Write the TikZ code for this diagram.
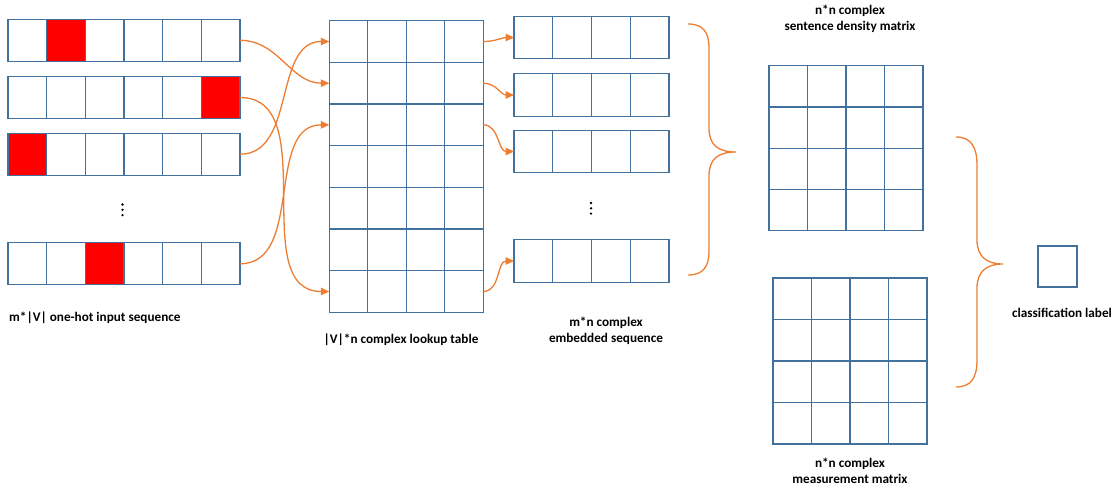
\documentclass[tikz,border=0pt]{standalone}
\usepackage{fontspec}
\setmainfont{Carlito}
\usetikzlibrary{arrows.meta}
\definecolor{cellblue}{RGB}{65,113,156}
\definecolor{arrorange}{RGB}{237,125,49}
\definecolor{hotred}{RGB}{255,0,0}
\begin{document}
\begin{tikzpicture}[x=1pt,y=-1pt,
  cellbox/.style={draw=cellblue, line width=1.3pt, inner sep=0pt, outer sep=0pt, fill=white},
  link/.style={draw=arrorange, line width=1.3pt, -{Triangle[length=8.5pt,width=7.5pt]}},
  bracestyle/.style={draw=arrorange, line width=1.3pt},
  lbl/.style={font=\bfseries\fontsize{13.2}{16}\selectfont, align=center, text=black, inner sep=0pt},
  dotmark/.style={fill=black, draw=none, circle, minimum size=2.6pt, inner sep=0pt}]
\useasboundingbox (0,0) rectangle (1113,492);
% input one-hot rows
\foreach \r/\yc/\hot in {1/40.3/2, 2/97.5/6, 3/154.2/1, 4/263.8/3}{
  \foreach \c in {1,...,6}{
    \pgfmathsetmacro\xc{8+(\c-0.5)*38.67}
    \ifnum\c=\hot\relax\def\fillc{hotred}\else\def\fillc{white}\fi
    \node[cellbox, minimum width=38.67pt, minimum height=42pt, fill=\fillc] (in\r-\c) at (\xc,\yc) {};
  }
}
\foreach \k/\yy in {1/204.5, 2/209.8, 3/215.1}{
  \node[dotmark] (dotin\k) at (122.5,\yy) {};
  \node[dotmark] (dotem\k) at (591,\yy-1.5) {};
}
% lookup table
\foreach \r in {1,...,7}{
  \foreach \c in {1,...,4}{
    \pgfmathsetmacro\xc{329.3+(\c-0.5)*38.5}
    \pgfmathsetmacro\yc{20.7+(\r-0.5)*41.66}
    \node[cellbox, minimum width=38.5pt, minimum height=41.66pt] (lk\r-\c) at (\xc,\yc) {};
  }
}
% embedded sequence
\foreach \r/\yc in {1/37.5, 2/95, 3/151.5, 4/261}{
  \foreach \c in {1,...,4}{
    \pgfmathsetmacro\xc{514+(\c-0.5)*38.75}
    \node[cellbox, minimum width=38.75pt, minimum height=42.5pt] (em\r-\c) at (\xc,\yc) {};
  }
}
% density matrix
\foreach \r in {1,...,4}{
  \foreach \c in {1,...,4}{
    \pgfmathsetmacro\xc{769+(\c-0.5)*38.5}
    \pgfmathsetmacro\yc{65.7+(\r-0.5)*41.25}
    \node[cellbox, minimum width=38.5pt, minimum height=41.25pt] (ds\r-\c) at (\xc,\yc) {};
  }
}
% measurement matrix
\foreach \r in {1,...,4}{
  \foreach \c in {1,...,4}{
    \pgfmathsetmacro\xc{773+(\c-0.5)*38.5}
    \pgfmathsetmacro\yc{278+(\r-0.5)*41.5}
    \node[cellbox, minimum width=38.5pt, minimum height=41.5pt] (ms\r-\c) at (\xc,\yc) {};
  }
}
% classification box
\node[cellbox, minimum width=39pt, minimum height=41pt] (cls) at (1057.5,266.5) {};
% arrows input -> lookup
\draw[link] (in1-6.east) to[out=0,in=180] (lk2-1.west);
\draw[link] (in2-6.east) to[out=0,in=180] (lk7-1.west);
\draw[link] (in3-6.east) to[out=0,in=180] (lk1-1.west);
\draw[link] (in4-6.east) to[out=0,in=180] (lk3-1.west);
% arrows lookup -> embedded
\draw[link] (lk1-4.east) to[out=0,in=180] (em1-1.west);
\draw[link] (lk2-4.east) to[out=0,in=180] (em2-1.west);
\draw[link] (lk3-4.east) to[out=0,in=180] (em3-1.west);
\draw[link] (lk7-4.east) to[out=0,in=180] (em4-1.west);
% braces
\draw[bracestyle] (688,24) .. controls (703,24) and (709,32) .. (709,48) -- (709,128)
  .. controls (709,145) and (718,152) .. (736,152)
  .. controls (718,152) and (709,159) .. (709,176) -- (709,251)
  .. controls (709,267) and (703,275) .. (688,275);
\draw[bracestyle] (956,137) .. controls (971,137) and (977,147) .. (977,165) -- (977,240)
  .. controls (977,256) and (986,264) .. (1003,264)
  .. controls (986,264) and (977,272) .. (977,288) -- (977,360)
  .. controls (977,378) and (971,387) .. (956,387);
% labels
\node[lbl, anchor=west] (lin) at (9,318) {m*|V| one-hot input sequence};
\node[lbl] (llk) at (401,340) {|V|*n complex lookup table};
\node[lbl] (lem) at (606,331) {m*n complex\\embedded sequence};
\node[lbl] (lds) at (850,19) {n*n complex\\sentence density matrix};
\node[lbl] (lms) at (850,471) {n*n complex\\measurement matrix};
\node[lbl] (lcl) at (1062,313) {classification label};
\end{tikzpicture}
\end{document}
